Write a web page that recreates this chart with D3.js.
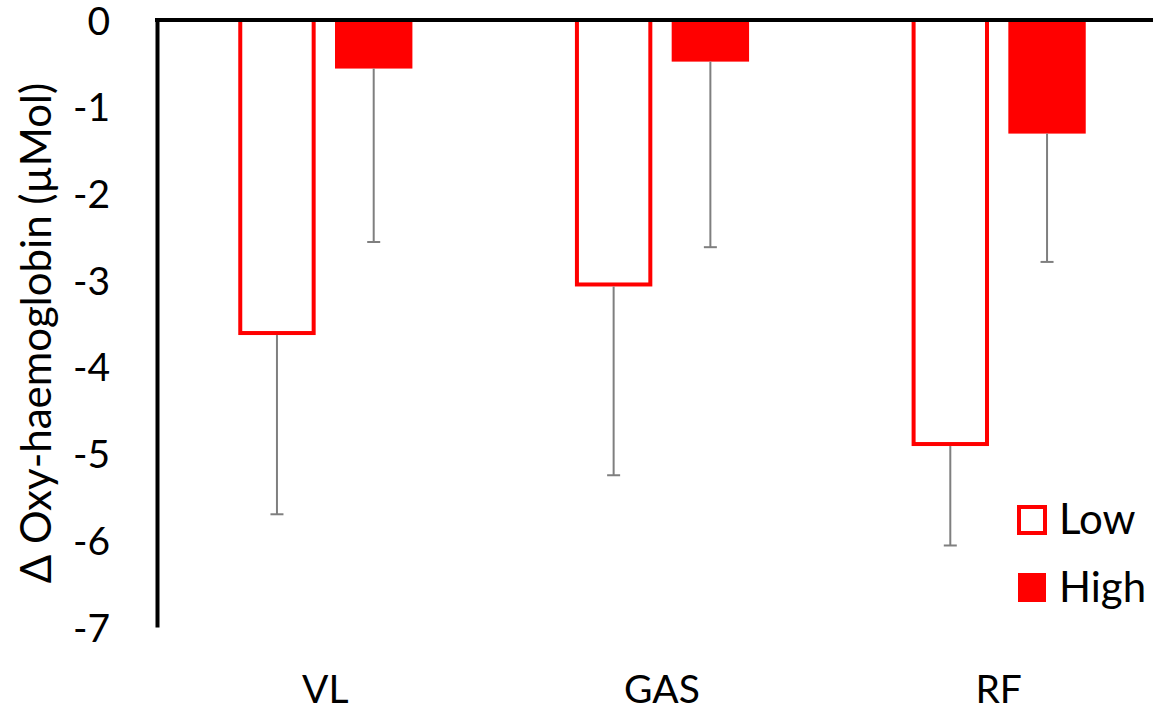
<!DOCTYPE html>
<html>
<head>
<meta charset="utf-8">
<script src="https://cdn.jsdelivr.net/npm/d3@7"></script>
<style>
  body { margin: 0; background: #fff; }
  text { font-family: Lato, "Open Sans", sans-serif; fill: #000; }
</style>
</head>
<body>
<div id="svganchor"></div>
<script>
let width = 1153;
let height = 710;
let margin = ({top: 20, right: -14, bottom: 83, left: 157});

// data
let categories = ["VL", "GAS", "RF"];
let groups = ["Low", "High"];
let lowValues = [-3.61, -3.05, -4.89];
let highValues = [-0.56, -0.48, -1.31];
let lowErrors = [2.09, 2.20, 1.17];
let highErrors = [2.00, 2.14, 1.48];
let yTicks = [0, -1, -2, -3, -4, -5, -6, -7];

let dataSet = categories.map((c, i) => ({
    cat: c,
    bars: [
        {group: "Low", value: lowValues[i], err: lowErrors[i]},
        {group: "High", value: highValues[i], err: highErrors[i]}
    ]
}));

let svg = d3.select("#svganchor")
    .append("svg")
    .attr("width", width)
    .attr("height", height);

let yScale = d3.scaleLinear()
    .domain([0, -7])
    .range([margin.top, height - margin.bottom]);

let xScale = d3.scaleBand()
    .domain(categories)
    .range([margin.left, width - margin.right])
    .padding(0);

let xSub = d3.scaleBand()
    .domain(groups)
    .range([0, xScale.bandwidth()])
    .paddingInner(0.2)
    .paddingOuter(0.84);

// bars
let g = svg.selectAll(".cat")
    .data(dataSet)
    .enter()
    .append("g")
    .attr("class", "cat")
    .attr("transform", d => "translate(" + xScale(d.cat) + ",0)");

g.selectAll(".bar")
    .data(d => d.bars)
    .enter()
    .append("rect")
    .attr("class", "bar")
    .attr("x", d => d.group == "Low" ? xSub(d.group) + 2 : xSub(d.group))
    .attr("width", d => d.group == "Low" ? xSub.bandwidth() - 4 : xSub.bandwidth())
    .attr("y", yScale(0))
    .attr("height", d => yScale(d.value) - yScale(0))
    .attr("fill", d => d.group == "Low" ? "#fff" : "#ff0000")
    .attr("stroke", d => d.group == "Low" ? "#ff0000" : "none")
    .attr("stroke-width", 4);

// error bars (downward only)
g.selectAll(".err")
    .data(d => d.bars)
    .enter()
    .append("line")
    .attr("class", "err")
    .attr("x1", d => xSub(d.group) + xSub.bandwidth() / 2)
    .attr("x2", d => xSub(d.group) + xSub.bandwidth() / 2)
    .attr("y1", d => yScale(d.value) + (d.group == "Low" ? 2 : 0))
    .attr("y2", d => yScale(d.value - d.err))
    .attr("stroke", "#7f7f7f")
    .attr("stroke-width", 2);

g.selectAll(".cap")
    .data(d => d.bars)
    .enter()
    .append("line")
    .attr("class", "cap")
    .attr("x1", d => xSub(d.group) + xSub.bandwidth() / 2 - 6.5)
    .attr("x2", d => xSub(d.group) + xSub.bandwidth() / 2 + 6.5)
    .attr("y1", d => yScale(d.value - d.err))
    .attr("y2", d => yScale(d.value - d.err))
    .attr("stroke", "#7f7f7f")
    .attr("stroke-width", 2);

// y axis
let yAxis = d3.axisLeft(yScale).tickValues(yTicks).tickSize(0).tickPadding(47)
    .tickFormat(d3.format("d"));
let yG = svg.append("g")
    .attr("transform", "translate(" + margin.left + ",0)")
    .call(yAxis);
yG.select(".domain").attr("stroke", "#000").attr("stroke-width", 4);
yG.selectAll("text").style("font-size", "39px").attr("dy", "0.36em")
    .text(d => d == 0 ? "0" : "-" + Math.abs(d));

// x axis line at zero
svg.append("line")
    .attr("x1", margin.left - 2)
    .attr("x2", width)
    .attr("y1", yScale(0))
    .attr("y2", yScale(0))
    .attr("stroke", "#000")
    .attr("stroke-width", 4);

// category labels
svg.selectAll(".xlabel")
    .data(categories)
    .enter()
    .append("text")
    .attr("class", "xlabel")
    .attr("x", d => xScale(d) + xScale.bandwidth() / 2)
    .attr("y", 703)
    .attr("text-anchor", "middle")
    .style("font-size", "39px")
    .text(d => d);

// y axis title
svg.append("text")
    .attr("transform", "translate(51," + 333 + ") rotate(-90)")
    .attr("text-anchor", "middle")
    .style("font-size", "42px")
    .text("Δ Oxy-haemoglobin (µMol)");

// legend
let legend = svg.selectAll(".legend")
    .data(groups)
    .enter()
    .append("g")
    .attr("class", "legend")
    .attr("transform", (d, i) => "translate(1017," + (505 + i * 68) + ")");

legend.append("rect")
    .attr("x", d => d == "Low" ? 2 : 1)
    .attr("y", d => d == "Low" ? 2 : 0)
    .attr("width", d => d == "Low" ? 26 : 28)
    .attr("height", d => d == "Low" ? 26 : 29)
    .attr("fill", d => d == "Low" ? "#fff" : "#ff0000")
    .attr("stroke", d => d == "Low" ? "#ff0000" : "none")
    .attr("stroke-width", 4);

legend.append("text")
    .attr("x", 42)
    .attr("y", 29)
    .style("font-size", "42px")
    .text(d => d);
</script>
</body>
</html>
